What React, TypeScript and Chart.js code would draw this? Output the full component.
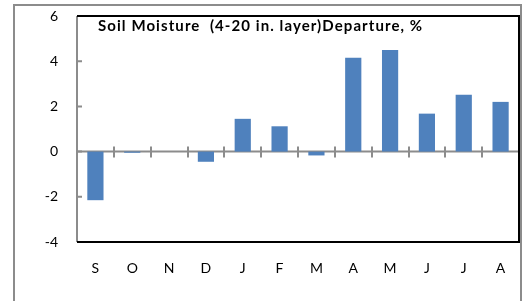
import React, { useEffect, useRef } from "react";
import { Chart, registerables } from "chart.js";

Chart.register(...registerables);

const categories = ["S", "O", "N", "D", "J", "F", "M", "A", "M", "J", "J", "A"];
const departure = [-2.15, -0.05, 0, -0.45, 1.45, 1.12, -0.17, 4.15, 4.5, 1.68, 2.52, 2.2];
const yTicks = [-4, -2, 0, 2, 4, 6];
const titleText = "Soil Moisture  (4-20 in. layer)Departure, %";

const frame = {
  id: "frame",
  beforeDatasetsDraw(chart: any) {
    const { ctx, chartArea, scales } = chart;
    const y0 = scales.y.getPixelForValue(0);
    const n = categories.length;
    const w = (chartArea.right - chartArea.left) / n;
    ctx.save();
    ctx.strokeStyle = "#8c8c8c";
    ctx.lineWidth = 2;
    ctx.beginPath();
    ctx.moveTo(chartArea.left, y0);
    ctx.lineTo(chartArea.right, y0);
    for (let i = 1; i < n; i++) {
      const x = Math.round(chartArea.left + i * w);
      ctx.moveTo(x, y0 - 5);
      ctx.lineTo(x, y0 + 6);
    }
    ctx.stroke();
    ctx.restore();
  },
  afterDatasetsDraw(chart: any) {
    const { ctx, chartArea, scales } = chart;
    ctx.save();
    ctx.strokeStyle = "#8c8c8c";
    ctx.lineWidth = 2;
    ctx.beginPath();
    ctx.moveTo(chartArea.left, chartArea.top);
    ctx.lineTo(chartArea.left, chartArea.bottom);
    for (const v of yTicks) {
      const y = scales.y.getPixelForValue(v);
      ctx.moveTo(chartArea.left, y);
      ctx.lineTo(chartArea.left + 5, y);
    }
    ctx.stroke();
    ctx.strokeStyle = "#000";
    ctx.lineWidth = 2;
    ctx.beginPath();
    ctx.moveTo(chartArea.left, chartArea.top);
    ctx.lineTo(chartArea.right, chartArea.top);
    ctx.lineTo(chartArea.right, chartArea.bottom);
    ctx.lineTo(chartArea.left, chartArea.bottom);
    ctx.stroke();
    ctx.fillStyle = "#000";
    ctx.font = "bold 15px Lato";
    ctx.textAlign = "left";
    ctx.textBaseline = "alphabetic";
    const target = 324;
    const w = ctx.measureText(titleText).width;
    const ls = (target - w) / (titleText.length - 1);
    (ctx as any).letterSpacing = ls.toFixed(2) + "px";
    ctx.fillText(titleText, chartArea.left + 21, chartArea.top + 15);
    ctx.restore();
  },
};

export default function App() {
  const ref = useRef<HTMLCanvasElement>(null);
  useEffect(() => {
    if (!ref.current) return;
    const chart = new Chart(ref.current, {
      type: "bar",
      data: {
        labels: categories,
        datasets: [
          {
            data: departure,
            backgroundColor: "#4F81BD",
            borderWidth: 0,
            barPercentage: 0.44,
            categoryPercentage: 1,
          },
        ],
      },
      options: {
        responsive: false,
        animation: false,
        devicePixelRatio: 1,
        layout: { padding: { left: 0, right: 6, top: 16, bottom: 19 } },
        plugins: { legend: { display: false }, tooltip: { enabled: false }, title: { display: false } },
        scales: {
          x: {
            grid: { display: false, drawTicks: true, tickLength: 18 },
            border: { display: false },
            ticks: { color: "#000", font: { family: "Lato", size: 14 }, padding: 0, maxRotation: 0 },
            afterFit: (s: any) => { s.height = 40; },
          },
          y: {
            min: -4,
            max: 6,
            grid: { display: false, drawTicks: true, tickLength: 19 },
            border: { display: false },
            ticks: { stepSize: 2, color: "#000", font: { family: "Lato", size: 14 }, padding: 0 },
            afterFit: (s: any) => { s.width = 77; },
          },
        },
      },
      plugins: [frame],
    });
    return () => chart.destroy();
  }, []);
  return (
    <div style={{ position: "fixed", left: 0, top: 0, width: 525, height: 301, overflow: "hidden", background: "#fff" }}>
      <div style={{ position: "absolute", left: 13, top: 4, width: 509, height: 400, boxSizing: "border-box", border: "2px solid #8c8c8c" }} />
      <canvas ref={ref} width={525} height={301} style={{ position: "absolute", left: 0, top: 0, width: 525, height: 301 }} />
    </div>
  );
}
